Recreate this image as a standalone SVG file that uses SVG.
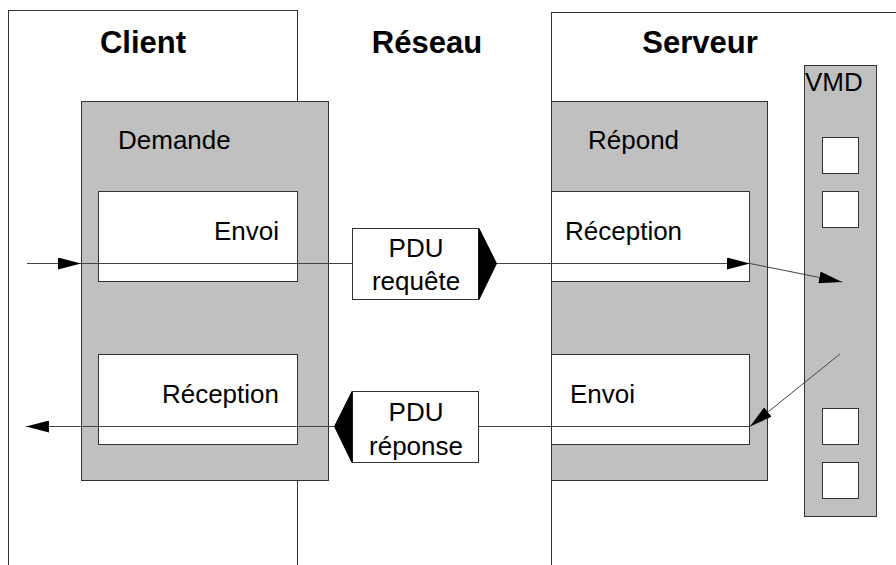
<svg xmlns="http://www.w3.org/2000/svg" width="896" height="565" viewBox="0 0 896 565">
<style>
.b{fill:#fff;stroke:#333;stroke-width:1}
.g{fill:#c0c0c0;stroke:#333;stroke-width:1}
.t{font-family:"Liberation Sans",Arial,sans-serif;font-size:26px;fill:#000}
.h{font-family:"Liberation Sans",Arial,sans-serif;font-size:31px;font-weight:bold;fill:#000}
.c{fill:none;stroke:#444;stroke-width:1}
.tri{fill:#000;stroke:#000;stroke-width:1}
</style>
<defs>
<marker id="ah" markerUnits="userSpaceOnUse" markerWidth="24" markerHeight="12" refX="23" refY="6" orient="auto" viewBox="0 0 24 12">
<path d="M0,0 L23,6 L0,12 z" fill="#000"/>
</marker>
</defs>
<rect width="896" height="565" fill="#fff"/>
<g id="client">
<rect x="8.5" y="10.5" width="289" height="570" class="b"/>
<text x="143" y="53" class="h" text-anchor="middle">Client</text>
</g>
<g id="reseau">
<text x="427" y="53" class="h" text-anchor="middle">Réseau</text>
</g>
<g id="serveur">
<rect x="551.5" y="12.5" width="360" height="570" class="b"/>
<text x="700" y="53" class="h" text-anchor="middle">Serveur</text>
</g>
<g id="demande">
<rect x="81.5" y="101.5" width="247" height="379" class="g"/>
<text x="118" y="149" class="t">Demande</text>
</g>
<g id="client-envoi">
<rect x="98.5" y="191.5" width="199" height="90" class="b"/>
<text x="279" y="240" class="t" text-anchor="end">Envoi</text>
</g>
<g id="client-reception">
<rect x="98.5" y="354.5" width="199" height="90" class="b"/>
<text x="279" y="403" class="t" text-anchor="end">Réception</text>
</g>
<g id="repond">
<rect x="551.5" y="101.5" width="216" height="379" class="g"/>
<text x="588" y="149" class="t">Répond</text>
</g>
<g id="serveur-reception">
<rect x="551.5" y="191.5" width="198" height="90" class="b"/>
<text x="565" y="240" class="t">Réception</text>
</g>
<g id="serveur-envoi">
<rect x="551.5" y="354.5" width="198" height="90" class="b"/>
<text x="570" y="403" class="t">Envoi</text>
</g>
<g id="vmd">
<rect x="804.5" y="65.5" width="72" height="451" class="g"/>
<text x="805" y="91" class="t">VMD</text>
<rect x="822.5" y="137.5" width="36" height="36" class="b"/>
<rect x="822.5" y="191.5" width="36" height="36" class="b"/>
<rect x="822.5" y="408.5" width="36" height="36" class="b"/>
<rect x="822.5" y="462.5" width="36" height="36" class="b"/>
</g>
<g id="connectors">
<line x1="27" y1="263.5" x2="81" y2="263.5" class="c" marker-end="url(#ah)"/>
<line x1="81" y1="263.5" x2="352" y2="263.5" class="c"/>
<line x1="497" y1="263.5" x2="750" y2="263.5" class="c" marker-end="url(#ah)"/>
<line x1="750" y1="263.5" x2="842" y2="282" class="c" marker-end="url(#ah)"/>
<line x1="840" y1="354" x2="750" y2="426.5" class="c" marker-end="url(#ah)"/>
<line x1="750" y1="426.5" x2="479" y2="426.5" class="c"/>
<line x1="334" y1="426.5" x2="26" y2="426.5" class="c" marker-end="url(#ah)"/>
</g>
<g id="pdu-requete">
<rect x="352.5" y="228.5" width="126" height="71" class="b"/>
<path d="M479,228.5 L496.5,263.5 L479,299.5 z" class="tri"/>
<text x="416" y="257" class="t" text-anchor="middle">PDU</text>
<text x="416" y="290" class="t" text-anchor="middle">requête</text>
</g>
<g id="pdu-reponse">
<rect x="352.5" y="391.5" width="126" height="71" class="b"/>
<path d="M352,391.5 L334.5,426.5 L352,462.5 z" class="tri"/>
<text x="416" y="421" class="t" text-anchor="middle">PDU</text>
<text x="416" y="455" class="t" text-anchor="middle">réponse</text>
</g>
</svg>
